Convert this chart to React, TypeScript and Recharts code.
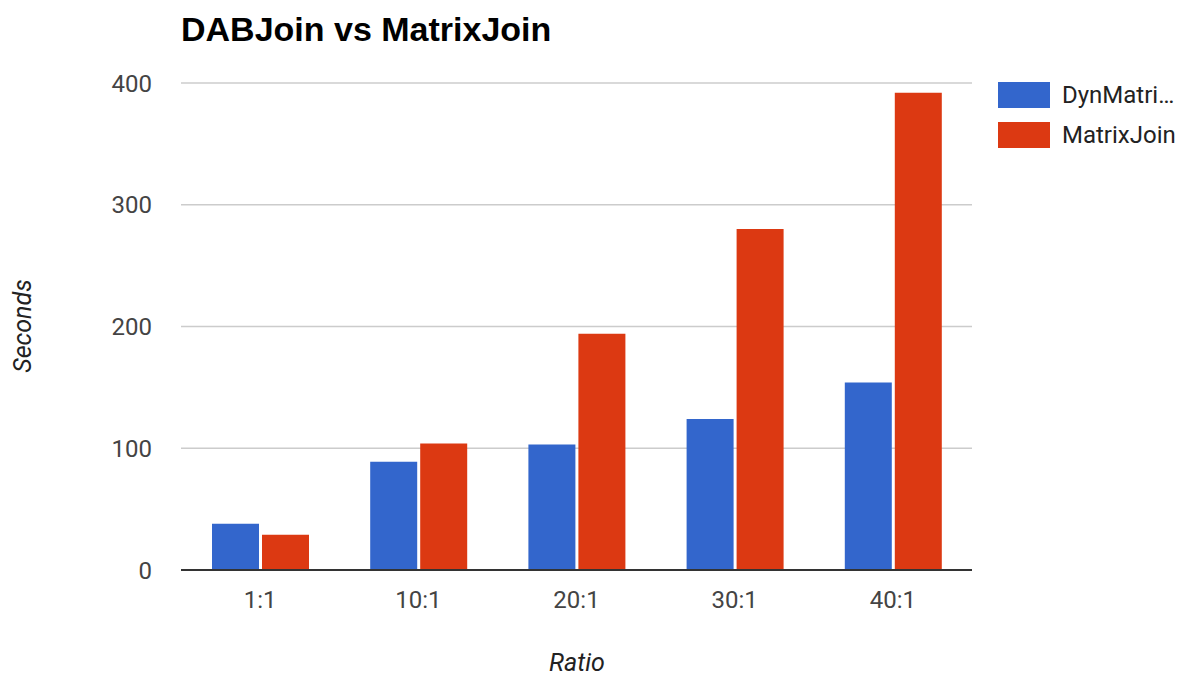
import { BarChart, Bar, XAxis, YAxis, CartesianGrid, Legend, Label } from "recharts";

const categories = ["1:1", "10:1", "20:1", "30:1", "40:1"];
const dynMatrixSeconds = [38, 89, 103, 124, 154];
const matrixJoinSeconds = [29, 104, 194, 280, 392];
const yTicks = [0, 100, 200, 300, 400];
const seriesNames = ["DynMatri…", "MatrixJoin"];
const seriesColors = ["#3366cc", "#dc3912"];

const data = categories.map((ratio, i) => ({
  ratio,
  dyn: dynMatrixSeconds[i],
  matrix: matrixJoinSeconds[i],
}));

const font = "Roboto, Arial, sans-serif";
const tickStyle = { fontSize: 24, fill: "#444", fontFamily: font };

function LegendBox({ payload }: any) {
  return (
    <div style={{ fontFamily: font }}>
      {(payload || []).map((p: any) => (
        <div key={p.value} style={{ display: "flex", alignItems: "center", height: 26, marginBottom: 14 }}>
          <span style={{ width: 52, height: 26, background: p.color, display: "inline-block", marginRight: 12 }} />
          <span style={{ fontSize: 24, color: "#222", lineHeight: "26px" }}>{p.value}</span>
        </div>
      ))}
    </div>
  );
}

export default function App() {
  return (
    <div style={{ position: "absolute", left: 0, top: 0, width: 1194, height: 678, background: "#fff" }}>
      {/* title */}
      <div
        style={{
          position: "absolute", left: 181, top: 12, fontFamily: "'Liberation Sans', Arial, sans-serif",
          fontWeight: 700, fontSize: 34, lineHeight: "34px", color: "#000", zIndex: 2,
        }}
      >
        DABJoin vs MatrixJoin
      </div>
      <BarChart
        width={1194}
        height={678}
        data={data}
        margin={{ top: 83, right: 222, bottom: 78, left: 0 }}
        barCategoryGap={31}
        barGap={3}
      >
        <CartesianGrid vertical={false} stroke="#cccccc" strokeWidth={1.5} />
        <XAxis
          dataKey="ratio"
          height={30}
          tick={tickStyle}
          tickLine={false}
          tickSize={0}
          tickMargin={21}
          axisLine={{ stroke: "#333", strokeWidth: 2 }}
        >
          <Label
            value="Ratio"
            content={() => (
              <text x={577} y={671} textAnchor="middle" fontSize={25} fontStyle="italic" fill="#222" fontFamily={font}>
                Ratio
              </text>
            )}
          />
        </XAxis>
        <YAxis
          width={181}
          domain={[0, 400]}
          ticks={yTicks}
          tick={tickStyle}
          tickLine={false}
          tickSize={0}
          tickMargin={29}
          axisLine={false}
        >
          <Label
            value="Seconds"
            content={() => (
              <text
                x={22}
                y={326}
                transform="rotate(-90 22 326)"
                textAnchor="middle"
                dominantBaseline="central"
                fontSize={25}
                fontStyle="italic"
                fill="#222"
                fontFamily={font}
              >
                Seconds
              </text>
            )}
          />
        </YAxis>
        <Legend
          layout="vertical"
          align="center"
          verticalAlign="middle"
          wrapperStyle={{ left: 998, top: 82, width: 196 }}
          content={<LegendBox />}
        />
        <Bar dataKey="dyn" name={seriesNames[0]} fill={seriesColors[0]} isAnimationActive={false} />
        <Bar dataKey="matrix" name={seriesNames[1]} fill={seriesColors[1]} isAnimationActive={false} />
      </BarChart>
    </div>
  );
}
